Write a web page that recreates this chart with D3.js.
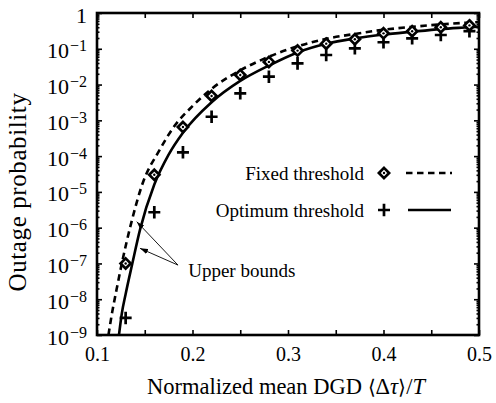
<!DOCTYPE html>
<html><head><meta charset="utf-8">
<script src="https://cdn.jsdelivr.net/npm/d3@7"></script>
<style>
body{margin:0;background:#fff;}
svg{display:block;}
</style>
</head><body>
<svg id="c" width="496" height="403"></svg>
<script>
// ---------- data ----------
const markerX = [0.13,0.16,0.19,0.22,0.25,0.28,0.31,0.34,0.37,0.40,0.43,0.46,0.49];
const fixedMarkers   = [1.0e-7,3.0e-5,6.5e-4,4.8e-3,0.0185,0.043,0.089,0.139,0.184,0.27,0.31,0.40,0.45];
const optimumMarkers = [3.0e-9,2.7e-6,1.28e-4,1.26e-3,5.7e-3,0.0166,0.039,0.067,0.103,0.152,0.196,0.243,0.31];

const fixedBoundX = [0.112,0.116,0.120,0.126,0.135,0.148,0.165,0.18,0.20,0.22,0.25,0.28,0.31,0.34,0.37,0.40,0.43,0.46,0.49,0.50];
const fixedBoundP = [1e-9,4.5e-9,1.6e-8,1e-7,1.1e-6,1.8e-5,1.4e-4,6.3e-4,2.5e-3,7.6e-3,0.025,0.060,0.117,0.19,0.26,0.34,0.41,0.48,0.54,0.56];

const optimumBoundX = [0.123,0.126,0.130,0.137,0.145,0.160,0.175,0.19,0.22,0.25,0.28,0.31,0.34,0.37,0.40,0.43,0.46,0.49,0.50];
const optimumBoundP = [1e-9,4e-9,1.4e-8,1e-7,8.7e-7,1.6e-5,1.1e-4,4.5e-4,3.2e-3,0.0126,0.034,0.079,0.138,0.195,0.25,0.30,0.355,0.40,0.417];

const xTickValues = [0.1,0.2,0.3,0.4,0.5];
const xTickLabels = ["0.1","0.2","0.3","0.4","0.5"];
const xMinorTicks = [0.15,0.25,0.35,0.45];
const yTickExps = [0,-1,-2,-3,-4,-5,-6,-7,-8,-9];
const legendLabels = ["Fixed threshold","Optimum threshold"];
const xLabel = "Normalized mean DGD ";
const yLabel = "Outage probability";
const annotationText = "Upper bounds";
const annotationTextPos = {x:0.1955, p:4.2e-8};
const annotationStart = {x:0.1848, p:9.0e-8};
const annotationTips = [{x:0.1416, p:1.47e-6},{x:0.1450, p:2.65e-7}];

// ---------- pick an installed serif font ----------
function pickFont(cands){
  const cv=document.createElement("canvas").getContext("2d");
  const probe="Normalized mean DGD 0123456789 Wgyl";
  function w(f){cv.font="40px "+f;return cv.measureText(probe).width;}
  const base=[w("monospace"),w("sans-serif")];
  for(const c of cands){
    const a=w(`"${c}",monospace`), b=w(`"${c}",sans-serif`);
    if(a!==base[0] || b!==base[1]) return `"${c}"`;
  }
  return "serif";
}
const SERIF = pickFont(["Liberation Serif","DejaVu Serif","Noto Serif","Times New Roman","Tinos","FreeSerif","Nimbus Roman","TeX Gyre Termes"]);

// ---------- layout ----------
const L=97, R=479, T=13, B=335;
const svg = d3.select("#c").attr("font-family",SERIF);
const x = d3.scaleLinear().domain([0.1,0.5]).range([L,R]);
const y = d3.scaleLog().domain([1e-9,1]).range([B,T]);

const defs = svg.append("defs");
defs.append("clipPath").attr("id","clip")
  .append("rect").attr("x",L).attr("y",T).attr("width",R-L).attr("height",B-T);
defs.append("marker").attr("id","arr").attr("viewBox","0 -3 8 6")
  .attr("refX",8).attr("refY",0).attr("markerWidth",8).attr("markerHeight",6)
  .attr("markerUnits","userSpaceOnUse").attr("orient","auto")
  .append("path").attr("d","M0,-2.6L8,0L0,2.6Z").attr("fill","#000");

// ---------- axes ----------
function styleAxis(g){
  g.attr("font-family",SERIF);
  g.select(".domain").remove();
  g.selectAll("line").attr("stroke","#000").attr("stroke-width",1.6);
}

const gxB = svg.append("g").attr("transform",`translate(0,${B})`)
  .call(d3.axisBottom(x).tickValues(xTickValues).tickSizeInner(-5).tickSizeOuter(0).tickPadding(12)
    .tickFormat((d,i)=>xTickLabels[i]));
styleAxis(gxB);
gxB.selectAll("text").attr("font-size",20).attr("fill","#000");
svg.append("g").attr("transform",`translate(0,${B})`)
  .call(d3.axisBottom(x).tickValues(xMinorTicks).tickSizeInner(-5).tickSizeOuter(0).tickFormat(""))
  .call(styleAxis);
svg.append("g").attr("transform",`translate(0,${T})`)
  .call(d3.axisTop(x).tickValues(xTickValues.concat(xMinorTicks)).tickSizeInner(-5).tickSizeOuter(0).tickFormat(""))
  .call(styleAxis);

const yMajor = yTickExps.map(e=>Math.pow(10,e));
const yMinor = [];
yTickExps.slice(0,-1).forEach(e=>{ for(let k=2;k<=9;k++) yMinor.push(k*Math.pow(10,e-1)); });

const gyL = svg.append("g").attr("transform",`translate(${L},0)`)
  .call(d3.axisLeft(y).tickValues(yMajor).tickSizeInner(-5).tickSizeOuter(0).tickPadding(10).tickFormat(()=>""));
styleAxis(gyL);
gyL.selectAll(".tick text").each(function(d,i){
  const t=d3.select(this).attr("dy",null).attr("y",9).attr("x",-10).attr("text-anchor","end").attr("fill","#000");
  const e=yTickExps[i];
  if(e===0){ t.append("tspan").attr("font-size",22).text("1"); }
  else {
    t.append("tspan").attr("font-size",22).text("10");
    t.append("tspan").attr("font-size",16).attr("dy",-7).attr("dx",1).text("\u2212"+(-e));
  }
});
svg.append("g").attr("transform",`translate(${L},0)`)
  .call(d3.axisLeft(y).tickValues(yMinor).tickSizeInner(-2.5).tickSizeOuter(0).tickFormat(""))
  .call(styleAxis);
svg.append("g").attr("transform",`translate(${R},0)`)
  .call(d3.axisRight(y).tickValues(yMajor).tickSizeInner(-5).tickSizeOuter(0).tickFormat(""))
  .call(styleAxis);
svg.append("g").attr("transform",`translate(${R},0)`)
  .call(d3.axisRight(y).tickValues(yMinor).tickSizeInner(-2.5).tickSizeOuter(0).tickFormat(""))
  .call(styleAxis);

// ---------- curves ----------
const line = d3.line().x(d=>x(d[0])).y(d=>y(d[1])).curve(d3.curveMonotoneX);
const plot = svg.append("g").attr("clip-path","url(#clip)");
plot.append("path").datum(fixedBoundX.map((v,i)=>[v,fixedBoundP[i]]))
  .attr("d",line).attr("fill","none").attr("stroke","#000").attr("stroke-width",2.6)
  .attr("stroke-dasharray","6.5,4.5");
plot.append("path").datum(optimumBoundX.map((v,i)=>[v,optimumBoundP[i]]))
  .attr("d",line).attr("fill","none").attr("stroke","#000").attr("stroke-width",2.6);

// ---------- markers ----------
const diamond = "M0,-5.1L5.1,0L0,5.1L-5.1,0Z";
const plus = "M-6,0H6M0,-6.3V6.3";
function drawDiamond(g,px,py){
  g.append("path").attr("d",diamond).attr("transform",`translate(${px},${py})`)
    .attr("fill","#fff").attr("stroke","#000").attr("stroke-width",2.7);
  g.append("circle").attr("cx",px).attr("cy",py).attr("r",1.2).attr("fill","#000");
}
function drawPlus(g,px,py){
  g.append("path").attr("d",plus).attr("transform",`translate(${px},${py})`)
    .attr("fill","none").attr("stroke","#000").attr("stroke-width",2.7);
}
const mk = svg.append("g");
markerX.forEach((v,i)=>drawPlus(mk,x(v),y(optimumMarkers[i])));
markerX.forEach((v,i)=>drawDiamond(mk,x(v),y(fixedMarkers[i])));

// ---------- frame ----------
svg.append("rect").attr("x",L).attr("y",T).attr("width",R-L).attr("height",B-T)
  .attr("fill","none").attr("stroke","#000").attr("stroke-width",2.6);

// ---------- legend ----------
const lg = svg.append("g");
const rowsY=[173,210];
legendLabels.forEach((s,i)=>{
  lg.append("text").attr("x",364).attr("y",rowsY[i]+6.5).attr("text-anchor","end")
    .attr("font-size",19).text(s);
});
drawDiamond(lg,384,rowsY[0]);
drawPlus(lg,384,rowsY[1]);
lg.append("line").attr("x1",406).attr("x2",452).attr("y1",rowsY[0]).attr("y2",rowsY[0])
  .attr("stroke","#000").attr("stroke-width",2.6).attr("stroke-dasharray","6.5,4.5");
lg.append("line").attr("x1",408).attr("x2",451).attr("y1",rowsY[1]).attr("y2",rowsY[1])
  .attr("stroke","#000").attr("stroke-width",2.6);

// ---------- annotation ----------
annotationTips.forEach(tp=>{
  svg.append("line").attr("x1",x(annotationStart.x)).attr("y1",y(annotationStart.p))
    .attr("x2",x(tp.x)).attr("y2",y(tp.p)).attr("stroke","#000").attr("stroke-width",0.9)
    .attr("marker-end","url(#arr)");
});
svg.append("text").attr("x",x(annotationTextPos.x)).attr("y",y(annotationTextPos.p))
  .attr("font-size",19).text(annotationText);

// ---------- axis labels ----------
const xl = svg.append("text").attr("x",(L+R)/2-2).attr("y",394).attr("text-anchor","middle").attr("font-size",22.5);
xl.append("tspan").text(xLabel);
xl.append("tspan").attr("font-size",20).text("\u27E8");
xl.append("tspan").text("\u0394");
xl.append("tspan").attr("font-style","italic").text("\u03C4");
xl.append("tspan").attr("font-size",20).text("\u27E9");
xl.append("tspan").text("/");
xl.append("tspan").attr("font-style","italic").text("T");

svg.append("text").attr("transform",`translate(25.5,${(T+B)/2+18}) rotate(-90)`)
  .attr("text-anchor","middle").attr("font-size",25).attr("letter-spacing",0.6).text(yLabel);
</script>
</body></html>
